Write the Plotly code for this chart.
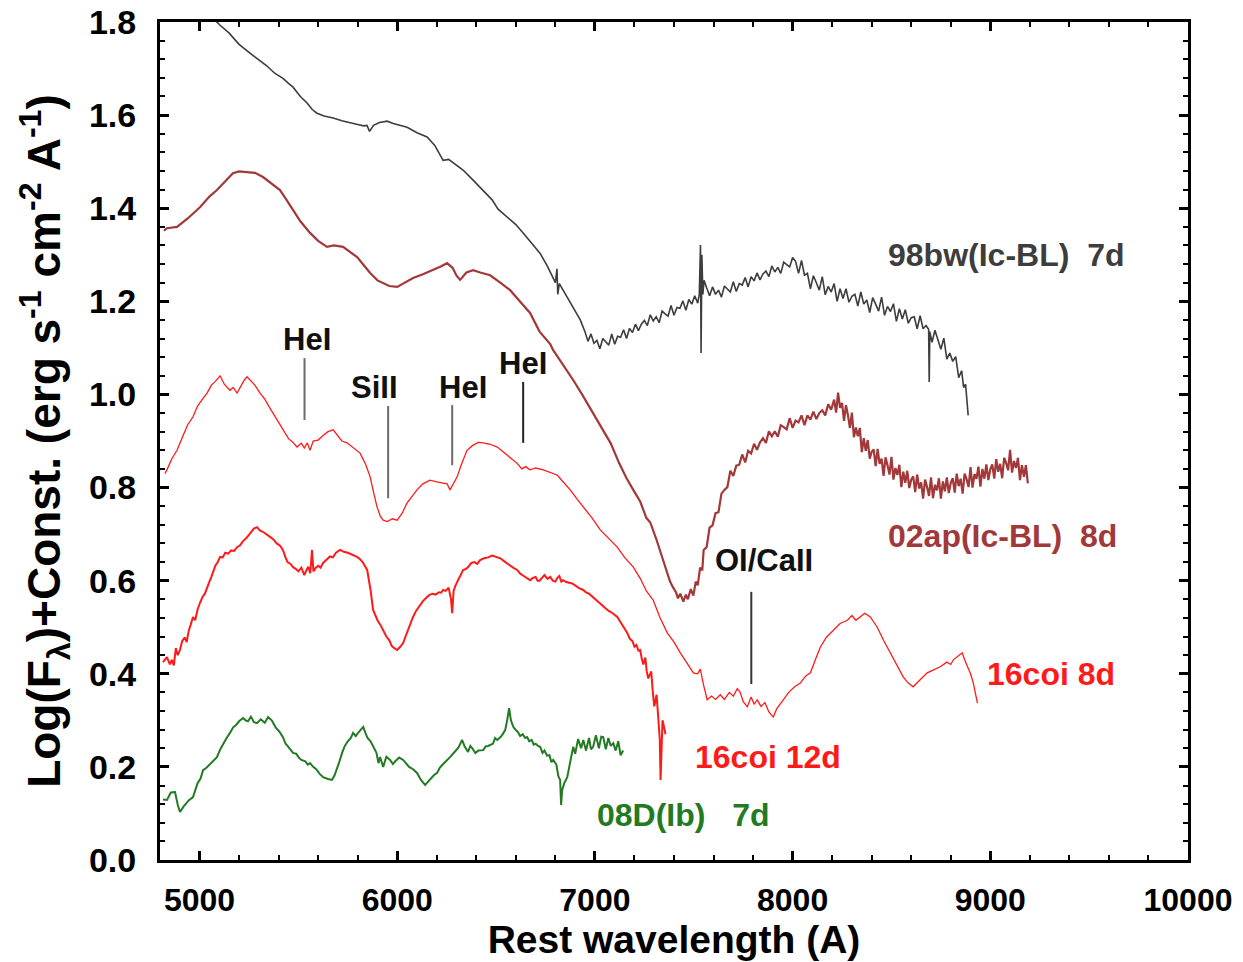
import plotly.graph_objects as go

# Spectra: (rest wavelength [A], log flux + constant)
sn98bw = [
    (5060, 1.812), (5104, 1.793), (5150, 1.776), (5200, 1.752), (5255, 1.733), (5300, 1.718),
    (5340, 1.706), (5380, 1.690), (5422, 1.679), (5450, 1.668), (5473, 1.660), (5510, 1.640),
    (5544, 1.626), (5570, 1.612), (5594, 1.604), (5630, 1.598), (5676, 1.594), (5720, 1.588),
    (5762, 1.583), (5800, 1.580), (5830, 1.577), (5847, 1.578), (5860, 1.565), (5880, 1.578),
    (5910, 1.584), (5949, 1.587), (5980, 1.582), (6010, 1.578), (6050, 1.574), (6100, 1.562),
    (6151, 1.553), (6190, 1.535), (6232, 1.503), (6260, 1.505), (6290, 1.495), (6333, 1.482),
    (6380, 1.462), (6435, 1.439), (6480, 1.418), (6510, 1.398), (6536, 1.389), (6560, 1.380),
    (6600, 1.365), (6637, 1.347), (6680, 1.325), (6723, 1.303), (6760, 1.275), (6789, 1.252),
    (6800, 1.240), (6808, 1.270), (6812, 1.215), (6820, 1.238), (6860, 1.209), (6900, 1.180),
    (6926, 1.160), (6950, 1.134), (6965, 1.114), (6980, 1.130), (6995, 1.110), (7010, 1.116),
    (7025, 1.098), (7040, 1.120), (7055, 1.113), (7070, 1.106), (7085, 1.130), (7100, 1.108),
    (7115, 1.125), (7130, 1.123), (7145, 1.139), (7160, 1.120), (7175, 1.142), (7190, 1.133),
    (7205, 1.151), (7220, 1.137), (7235, 1.151), (7250, 1.159), (7265, 1.148), (7280, 1.171),
    (7295, 1.158), (7310, 1.167), (7325, 1.154), (7340, 1.179), (7355, 1.173), (7370, 1.168),
    (7385, 1.191), (7400, 1.170), (7415, 1.187), (7430, 1.185), (7445, 1.201), (7460, 1.181),
    (7475, 1.204), (7490, 1.194), (7505, 1.212), (7520, 1.196), (7528, 1.215), (7534, 1.321),
    (7537, 1.089), (7541, 1.300), (7546, 1.215), (7552, 1.245), (7565, 1.229), (7580, 1.212),
    (7595, 1.231), (7610, 1.215), (7625, 1.224), (7640, 1.209), (7655, 1.233), (7670, 1.226),
    (7685, 1.220), (7700, 1.242), (7715, 1.221), (7730, 1.238), (7745, 1.235), (7760, 1.251),
    (7775, 1.231), (7790, 1.253), (7805, 1.244), (7820, 1.261), (7835, 1.246), (7850, 1.259),
    (7865, 1.265), (7880, 1.253), (7895, 1.276), (7910, 1.263), (7925, 1.273), (7940, 1.260),
    (7955, 1.284), (7970, 1.279), (7985, 1.274), (8000, 1.294), (8015, 1.286), (8030, 1.260),
    (8045, 1.288), (8060, 1.256), (8075, 1.260), (8090, 1.227), (8105, 1.255), (8120, 1.240),
    (8135, 1.224), (8150, 1.253), (8165, 1.214), (8180, 1.232), (8195, 1.220), (8210, 1.238),
    (8225, 1.200), (8240, 1.227), (8255, 1.206), (8270, 1.227), (8285, 1.198), (8300, 1.211),
    (8315, 1.215), (8330, 1.190), (8345, 1.220), (8360, 1.194), (8375, 1.203), (8390, 1.176),
    (8405, 1.208), (8420, 1.194), (8435, 1.179), (8450, 1.209), (8465, 1.170), (8480, 1.189),
    (8495, 1.178), (8510, 1.195), (8525, 1.157), (8540, 1.184), (8555, 1.162), (8570, 1.182),
    (8585, 1.153), (8600, 1.165), (8615, 1.167), (8630, 1.141), (8645, 1.169), (8660, 1.141),
    (8675, 1.148), (8688, 1.140), (8691, 1.027), (8694, 1.135), (8705, 1.112), (8720, 1.138),
    (8735, 1.118), (8750, 1.097), (8765, 1.121), (8780, 1.076), (8795, 1.089), (8810, 1.071),
    (8825, 1.081), (8840, 1.036), (8855, 1.051), (8865, 1.015), (8875, 1.022), (8882, 0.983),
    (8888, 0.955),
]

sn02ap = [
    (4820, 1.352), (4835, 1.357), (4886, 1.360), (4940, 1.378), (5002, 1.402), (5050, 1.425),
    (5088, 1.439), (5130, 1.458), (5169, 1.475), (5200, 1.479), (5240, 1.478), (5280, 1.476),
    (5321, 1.467), (5360, 1.455), (5407, 1.439), (5440, 1.418), (5473, 1.396), (5510, 1.372),
    (5559, 1.347), (5600, 1.330), (5645, 1.317), (5680, 1.320), (5726, 1.317), (5760, 1.307),
    (5797, 1.295), (5830, 1.278), (5863, 1.261), (5900, 1.245), (5929, 1.239), (5960, 1.233),
    (6000, 1.231), (6040, 1.240), (6080, 1.250), (6130, 1.258), (6181, 1.267), (6220, 1.275),
    (6252, 1.282), (6280, 1.272), (6300, 1.255), (6318, 1.246), (6350, 1.262), (6384, 1.267),
    (6420, 1.262), (6470, 1.256), (6521, 1.240), (6571, 1.224), (6620, 1.200), (6672, 1.175),
    (6720, 1.135), (6774, 1.108), (6789, 1.095), (6840, 1.063), (6890, 1.031), (6935, 1.000),
    (6991, 0.960), (7042, 0.924), (7080, 0.895), (7123, 0.852), (7160, 0.820), (7194, 0.795),
    (7229, 0.770), (7260, 0.735), (7280, 0.725), (7310, 0.690), (7330, 0.665), (7350, 0.640),
    (7366, 0.616), (7380, 0.598), (7396, 0.585), (7410, 0.575), (7420, 0.562), (7432, 0.572),
    (7447, 0.555), (7460, 0.570), (7470, 0.560), (7485, 0.582), (7498, 0.568), (7510, 0.598),
    (7520, 0.590), (7532, 0.628), (7543, 0.622), (7550, 0.666), (7565, 0.672), (7580, 0.714),
    (7595, 0.719), (7610, 0.745), (7625, 0.747), (7640, 0.787), (7655, 0.795), (7670, 0.801),
    (7685, 0.836), (7700, 0.825), (7715, 0.847), (7730, 0.849), (7745, 0.871), (7760, 0.854),
    (7775, 0.879), (7790, 0.873), (7805, 0.894), (7820, 0.881), (7835, 0.897), (7850, 0.906),
    (7865, 0.896), (7880, 0.921), (7895, 0.910), (7910, 0.921), (7925, 0.909), (7940, 0.934),
    (7955, 0.930), (7970, 0.925), (7985, 0.949), (8000, 0.928), (8015, 0.944), (8030, 0.940),
    (8045, 0.955), (8060, 0.934), (8075, 0.955), (8090, 0.946), (8105, 0.963), (8120, 0.947),
    (8135, 0.960), (8150, 0.966), (8165, 0.955), (8180, 0.979), (8195, 0.967), (8210, 0.989),
    (8220, 0.961), (8230, 1.004), (8240, 0.971), (8250, 0.982), (8260, 0.943), (8270, 0.977),
    (8280, 0.955), (8290, 0.928), (8300, 0.961), (8310, 0.908), (8320, 0.929), (8330, 0.910),
    (8340, 0.928), (8350, 0.876), (8360, 0.906), (8370, 0.879), (8380, 0.902), (8390, 0.862),
    (8400, 0.877), (8410, 0.882), (8420, 0.846), (8430, 0.883), (8440, 0.851), (8450, 0.862),
    (8460, 0.825), (8470, 0.865), (8480, 0.848), (8490, 0.828), (8500, 0.866), (8510, 0.817),
    (8520, 0.842), (8530, 0.827), (8540, 0.849), (8550, 0.801), (8560, 0.834), (8570, 0.810),
    (8580, 0.836), (8590, 0.799), (8600, 0.817), (8610, 0.824), (8620, 0.790), (8630, 0.828),
    (8640, 0.798), (8650, 0.811), (8660, 0.776), (8670, 0.817), (8680, 0.801), (8690, 0.782),
    (8700, 0.822), (8710, 0.777), (8720, 0.806), (8730, 0.794), (8740, 0.820), (8750, 0.776),
    (8760, 0.813), (8770, 0.792), (8780, 0.822), (8790, 0.788), (8800, 0.810), (8810, 0.820),
    (8820, 0.789), (8830, 0.830), (8840, 0.803), (8850, 0.819), (8860, 0.787), (8870, 0.830),
    (8880, 0.818), (8890, 0.801), (8900, 0.844), (8910, 0.800), (8920, 0.829), (8930, 0.819),
    (8940, 0.845), (8950, 0.802), (8960, 0.840), (8970, 0.819), (8980, 0.850), (8990, 0.816),
    (9000, 0.839), (9010, 0.850), (9020, 0.819), (9030, 0.861), (9040, 0.834), (9050, 0.851),
    (9060, 0.820), (9070, 0.864), (9080, 0.853), (9090, 0.837), (9100, 0.881), (9110, 0.832),
    (9120, 0.857), (9130, 0.842), (9140, 0.864), (9150, 0.816), (9160, 0.848), (9170, 0.823),
    (9180, 0.848), (9190, 0.809),
]

sn16coi_8d = [
    (4825, 0.830), (4835, 0.838), (4860, 0.862), (4886, 0.880), (4910, 0.905), (4940, 0.935),
    (4967, 0.952), (4990, 0.975), (5015, 0.990), (5038, 1.003), (5060, 1.020), (5080, 1.028),
    (5104, 1.040), (5125, 1.022), (5154, 1.009), (5170, 1.015), (5190, 1.003), (5210, 1.020),
    (5225, 1.030), (5240, 1.038), (5260, 1.030), (5280, 1.020), (5306, 1.003), (5330, 0.990),
    (5350, 0.975), (5372, 0.960), (5395, 0.945), (5422, 0.924), (5450, 0.905), (5470, 0.898),
    (5493, 0.887), (5515, 0.895), (5530, 0.885), (5545, 0.896), (5559, 0.880), (5575, 0.900),
    (5600, 0.902), (5625, 0.912), (5650, 0.920), (5676, 0.924), (5700, 0.912), (5720, 0.900),
    (5746, 0.896), (5780, 0.885), (5812, 0.874), (5840, 0.850), (5863, 0.823), (5880, 0.790),
    (5898, 0.758), (5915, 0.738), (5929, 0.730), (5950, 0.727), (5975, 0.733), (6000, 0.730),
    (6025, 0.745), (6050, 0.767), (6075, 0.782), (6100, 0.795), (6130, 0.808), (6166, 0.816),
    (6200, 0.812), (6230, 0.810), (6252, 0.808), (6267, 0.795), (6285, 0.810), (6303, 0.823),
    (6325, 0.850), (6353, 0.880), (6380, 0.890), (6410, 0.897), (6435, 0.896), (6470, 0.893),
    (6506, 0.887), (6540, 0.875), (6575, 0.862), (6607, 0.852), (6630, 0.840), (6650, 0.845),
    (6672, 0.838), (6700, 0.842), (6738, 0.838), (6770, 0.833), (6809, 0.827), (6840, 0.812),
    (6875, 0.795), (6910, 0.775), (6941, 0.758), (6985, 0.735), (7027, 0.709), (7070, 0.690),
    (7113, 0.672), (7150, 0.650), (7194, 0.629), (7229, 0.605), (7260, 0.578), (7295, 0.558),
    (7330, 0.520), (7366, 0.488), (7400, 0.468), (7432, 0.445), (7465, 0.422), (7498, 0.402),
    (7520, 0.400), (7533, 0.410), (7550, 0.375), (7568, 0.344), (7590, 0.352), (7610, 0.345),
    (7634, 0.355), (7655, 0.345), (7680, 0.360), (7700, 0.352), (7720, 0.368), (7735, 0.360),
    (7750, 0.340), (7771, 0.329), (7790, 0.350), (7805, 0.335), (7821, 0.344), (7840, 0.330),
    (7860, 0.338), (7880, 0.318), (7902, 0.307), (7920, 0.325), (7953, 0.344), (7980, 0.360),
    (8010, 0.372), (8039, 0.380), (8065, 0.395), (8090, 0.402), (8115, 0.430), (8140, 0.457),
    (8170, 0.478), (8206, 0.494), (8240, 0.508), (8277, 0.515), (8300, 0.525), (8320, 0.515),
    (8343, 0.522), (8365, 0.530), (8393, 0.522), (8410, 0.512), (8428, 0.500), (8460, 0.472),
    (8494, 0.445), (8525, 0.418), (8560, 0.393), (8585, 0.380), (8610, 0.372), (8640, 0.385),
    (8681, 0.402), (8710, 0.408), (8747, 0.415), (8780, 0.425), (8800, 0.420), (8813, 0.430),
    (8835, 0.438), (8858, 0.445), (8870, 0.430), (8884, 0.415), (8900, 0.400), (8914, 0.380),
    (8935, 0.337),
]

sn16coi_12d = [
    (4815, 0.425), (4835, 0.436), (4850, 0.420), (4860, 0.430), (4870, 0.418), (4880, 0.455),
    (4890, 0.440), (4901, 0.451), (4912, 0.470), (4925, 0.478), (4935, 0.468), (4945, 0.492),
    (4955, 0.505), (4967, 0.522), (4978, 0.515), (4990, 0.538), (5002, 0.552), (5015, 0.565),
    (5027, 0.572), (5038, 0.586), (5050, 0.598), (5060, 0.608), (5070, 0.622), (5080, 0.632),
    (5092, 0.640), (5104, 0.651), (5117, 0.650), (5130, 0.660), (5145, 0.658), (5160, 0.665),
    (5175, 0.664), (5190, 0.672), (5205, 0.676), (5220, 0.685), (5238, 0.692), (5255, 0.702),
    (5275, 0.712), (5291, 0.715), (5305, 0.708), (5320, 0.705), (5340, 0.700), (5357, 0.694),
    (5375, 0.688), (5390, 0.680), (5405, 0.676), (5422, 0.666), (5435, 0.650), (5445, 0.640),
    (5460, 0.636), (5473, 0.629), (5488, 0.625), (5500, 0.620), (5515, 0.628), (5530, 0.612),
    (5540, 0.622), (5550, 0.630), (5560, 0.616), (5569, 0.666), (5576, 0.620), (5588, 0.628),
    (5600, 0.632), (5612, 0.628), (5625, 0.638), (5642, 0.645), (5660, 0.652), (5675, 0.650),
    (5690, 0.660), (5711, 0.666), (5730, 0.662), (5750, 0.660), (5775, 0.656), (5797, 0.651),
    (5812, 0.646), (5825, 0.640), (5848, 0.623), (5865, 0.580), (5878, 0.537), (5890, 0.525),
    (5900, 0.515), (5915, 0.505), (5929, 0.494), (5945, 0.480), (5960, 0.472), (5972, 0.460),
    (5985, 0.455), (6000, 0.451), (6015, 0.458), (6030, 0.466), (6042, 0.480), (6055, 0.495),
    (6068, 0.510), (6080, 0.522), (6095, 0.535), (6110, 0.545), (6130, 0.556), (6151, 0.565),
    (6165, 0.570), (6180, 0.572), (6195, 0.570), (6210, 0.575), (6222, 0.574), (6232, 0.580),
    (6245, 0.578), (6260, 0.585), (6272, 0.560), (6278, 0.530), (6285, 0.578), (6295, 0.590),
    (6305, 0.598), (6320, 0.612), (6333, 0.623), (6347, 0.625), (6360, 0.630), (6375, 0.638),
    (6390, 0.640), (6405, 0.636), (6419, 0.644), (6440, 0.648), (6460, 0.650), (6480, 0.654),
    (6506, 0.651), (6522, 0.648), (6540, 0.642), (6558, 0.636), (6575, 0.630), (6590, 0.627),
    (6607, 0.623), (6622, 0.615), (6640, 0.610), (6655, 0.605), (6672, 0.601), (6686, 0.606),
    (6700, 0.608), (6710, 0.600), (6720, 0.600), (6732, 0.606), (6745, 0.612), (6760, 0.604),
    (6774, 0.608), (6787, 0.600), (6800, 0.598), (6810, 0.606), (6820, 0.610), (6830, 0.598),
    (6839, 0.601), (6855, 0.597), (6870, 0.595), (6885, 0.594), (6900, 0.590), (6920, 0.584),
    (6941, 0.580), (6955, 0.575), (6970, 0.572), (6985, 0.566), (7000, 0.560), (7020, 0.552),
    (7042, 0.543), (7055, 0.540), (7070, 0.535), (7090, 0.530), (7113, 0.522), (7127, 0.512),
    (7140, 0.505), (7152, 0.494), (7163, 0.488), (7177, 0.475), (7190, 0.470), (7200, 0.458),
    (7210, 0.462), (7220, 0.450), (7229, 0.451), (7237, 0.432), (7245, 0.420), (7255, 0.435),
    (7262, 0.405), (7270, 0.390), (7285, 0.405), (7292, 0.365), (7300, 0.330), (7312, 0.355),
    (7322, 0.300), (7328, 0.260), (7332, 0.172), (7336, 0.230), (7342, 0.300), (7350, 0.285),
    (7357, 0.270),
]

sn08D = [
    (4815, 0.130), (4835, 0.129), (4855, 0.145), (4876, 0.146), (4890, 0.118), (4901, 0.103),
    (4920, 0.115), (4945, 0.128), (4967, 0.135), (4980, 0.150), (4990, 0.165), (5005, 0.175),
    (5018, 0.193), (5035, 0.198), (5050, 0.205), (5070, 0.212), (5088, 0.221), (5105, 0.238),
    (5120, 0.250), (5137, 0.262), (5154, 0.273), (5170, 0.285), (5185, 0.290), (5200, 0.298),
    (5220, 0.305), (5233, 0.300), (5245, 0.298), (5260, 0.308), (5275, 0.296), (5291, 0.294),
    (5310, 0.302), (5330, 0.295), (5347, 0.307), (5365, 0.300), (5385, 0.285), (5405, 0.275),
    (5422, 0.264), (5435, 0.250), (5445, 0.245), (5460, 0.238), (5473, 0.230), (5490, 0.228),
    (5502, 0.220), (5515, 0.215), (5535, 0.212), (5548, 0.205), (5559, 0.208), (5575, 0.200),
    (5590, 0.195), (5608, 0.185), (5625, 0.178), (5650, 0.174), (5670, 0.172), (5683, 0.182),
    (5695, 0.195), (5708, 0.212), (5721, 0.230), (5735, 0.245), (5750, 0.255), (5765, 0.262),
    (5777, 0.273), (5790, 0.266), (5800, 0.272), (5815, 0.280), (5828, 0.286), (5840, 0.272),
    (5850, 0.262), (5865, 0.255), (5878, 0.243), (5895, 0.230), (5905, 0.208), (5913, 0.221),
    (5929, 0.200), (5945, 0.222), (5964, 0.215), (5978, 0.206), (5990, 0.212), (6010, 0.220),
    (6030, 0.215), (6045, 0.208), (6060, 0.200), (6080, 0.195), (6100, 0.187), (6120, 0.172),
    (6141, 0.161), (6155, 0.168), (6170, 0.175), (6185, 0.182), (6202, 0.187), (6215, 0.198),
    (6230, 0.205), (6250, 0.215), (6267, 0.221), (6290, 0.232), (6310, 0.242), (6328, 0.258),
    (6340, 0.245), (6358, 0.232), (6370, 0.245), (6380, 0.240), (6395, 0.230), (6410, 0.235),
    (6435, 0.236), (6447, 0.244), (6460, 0.245), (6485, 0.250), (6495, 0.262), (6506, 0.258),
    (6525, 0.265), (6536, 0.272), (6546, 0.279), (6556, 0.300), (6566, 0.326), (6575, 0.300),
    (6587, 0.286), (6598, 0.280), (6610, 0.275), (6622, 0.266), (6635, 0.270), (6647, 0.262),
    (6657, 0.264), (6668, 0.255), (6680, 0.258), (6690, 0.248), (6700, 0.250), (6712, 0.245),
    (6723, 0.243), (6735, 0.230), (6745, 0.235), (6758, 0.224), (6770, 0.225), (6780, 0.210),
    (6789, 0.215), (6805, 0.205), (6815, 0.180), (6824, 0.172), (6829, 0.118), (6834, 0.150),
    (6845, 0.165), (6860, 0.178), (6875, 0.215), (6890, 0.243), (6900, 0.228), (6915, 0.260),
    (6930, 0.240), (6941, 0.258), (6955, 0.235), (6970, 0.262), (6980, 0.238), (6991, 0.243),
    (7005, 0.268), (7020, 0.240), (7032, 0.265), (7042, 0.264), (7055, 0.238), (7068, 0.262),
    (7080, 0.245), (7093, 0.251), (7105, 0.235), (7118, 0.255), (7130, 0.225), (7143, 0.235),
]

# Series styling and their labels (text, label anchor wavelength, label level)
series = [
    (sn98bw, "#3d3d3d", 1.6, "98bw(Ic-BL)\u00a0\u00a07d", 8474, 1.299),
    (sn02ap, "#a3383a", 2.2, "02ap(Ic-BL)\u00a0\u00a08d", 8474, 0.696),
    (sn16coi_8d, "#ff1a1a", 1.3, "16coi 8d", 8975, 0.399),
    (sn16coi_12d, "#ff1a1a", 2.0, "16coi 12d", 7497, 0.221),
    (sn08D, "#237a23", 2.0, "08D(Ib)\u00a0\u00a0\u00a07d", 7001, 0.097),
]

# Line identifications: label, marker wavelength, marker bottom/top, label position
line_ids = ["HeI", "SiII", "HeI", "HeI", "OI/CaII"]
line_wl = [5531, 5954, 6278, 6637, 7791]
line_y0 = [0.945, 0.777, 0.848, 0.896, 0.378]
line_y1 = [1.078, 0.975, 0.977, 1.027, 0.576]
label_wl = [5546, 5883, 6331, 6635, 7857]
label_y = [1.117, 1.016, 1.016, 1.067, 0.644]
line_colors = ["#6b6b6b", "#6b6b6b", "#6b6b6b", "#222222", "#333333"]

x_ticks = [5000, 6000, 7000, 8000, 9000, 10000]
y_ticks = [0.0, 0.2, 0.4, 0.6, 0.8, 1.0, 1.2, 1.4, 1.6, 1.8]

FONT = "Liberation Sans, Arial, Helvetica, sans-serif"

fig = go.Figure()
annotations = []
for data, color, width, label, lx, ly in series:
    fig.add_trace(go.Scatter(
        x=[p[0] for p in data], y=[p[1] for p in data],
        mode="lines", line=dict(color=color, width=width),
        showlegend=False, hoverinfo="skip",
    ))
    annotations.append(dict(
        x=lx, y=ly, xref="x", yref="y", text=label, showarrow=False,
        xanchor="left", yanchor="middle",
        font=dict(family=FONT, size=32, color=color, weight="bold"),
    ))

shapes = []
for wl, y0, y1, c in zip(line_wl, line_y0, line_y1, line_colors):
    shapes.append(dict(type="line", xref="x", yref="y", x0=wl, x1=wl, y0=y0, y1=y1,
                       line=dict(color=c, width=2)))
for txt, x, y in zip(line_ids, label_wl, label_y):
    annotations.append(dict(
        x=x, y=y, xref="x", yref="y", text=txt, showarrow=False,
        xanchor="center", yanchor="middle",
        font=dict(family=FONT, size=31, color="#111111", weight="bold"),
    ))

axis_common = dict(
    showline=True, linecolor="black", linewidth=3, mirror="allticks",
    ticks="inside", ticklen=9, tickwidth=2.5, tickcolor="black",
    showgrid=False, zeroline=False, automargin=False,
)

fig.update_layout(
    width=1243, height=962,
    margin=dict(l=160, r=55, t=22, b=102),
    paper_bgcolor="white", plot_bgcolor="white",
    shapes=shapes, annotations=annotations,
    xaxis=dict(
        range=[4800, 10000], tickvals=x_ticks, ticktext=[str(v) for v in x_ticks],
        minor=dict(ticks="inside", ticklen=5, tickwidth=2, tickcolor="black", dtick=200, tick0=0),
        tickfont=dict(family=FONT, size=32, color="black", weight="bold"),
        title=dict(text="Rest wavelength (A)", standoff=4,
                   font=dict(family=FONT, size=39, color="black", weight="bold")),
        ticklabelstandoff=10,
        **axis_common,
    ),
    yaxis=dict(
        range=[0, 1.8], tickvals=y_ticks, ticktext=[f"{v:.1f}" for v in y_ticks],
        minor=dict(ticks="inside", ticklen=5, tickwidth=2, tickcolor="black", dtick=0.04, tick0=0),
        tickfont=dict(family=FONT, size=34, color="black", weight="bold"),
        title=dict(text="Log(F<sub>λ</sub>)+Const. (erg s<sup>-1</sup> cm<sup>-2</sup> A<sup>-1</sup>)",
                   standoff=14,
                   font=dict(family=FONT, size=46, color="black", weight="bold")),
        ticklabelstandoff=14,
        **axis_common,
    ),
)

fig.write_html("out.html")
